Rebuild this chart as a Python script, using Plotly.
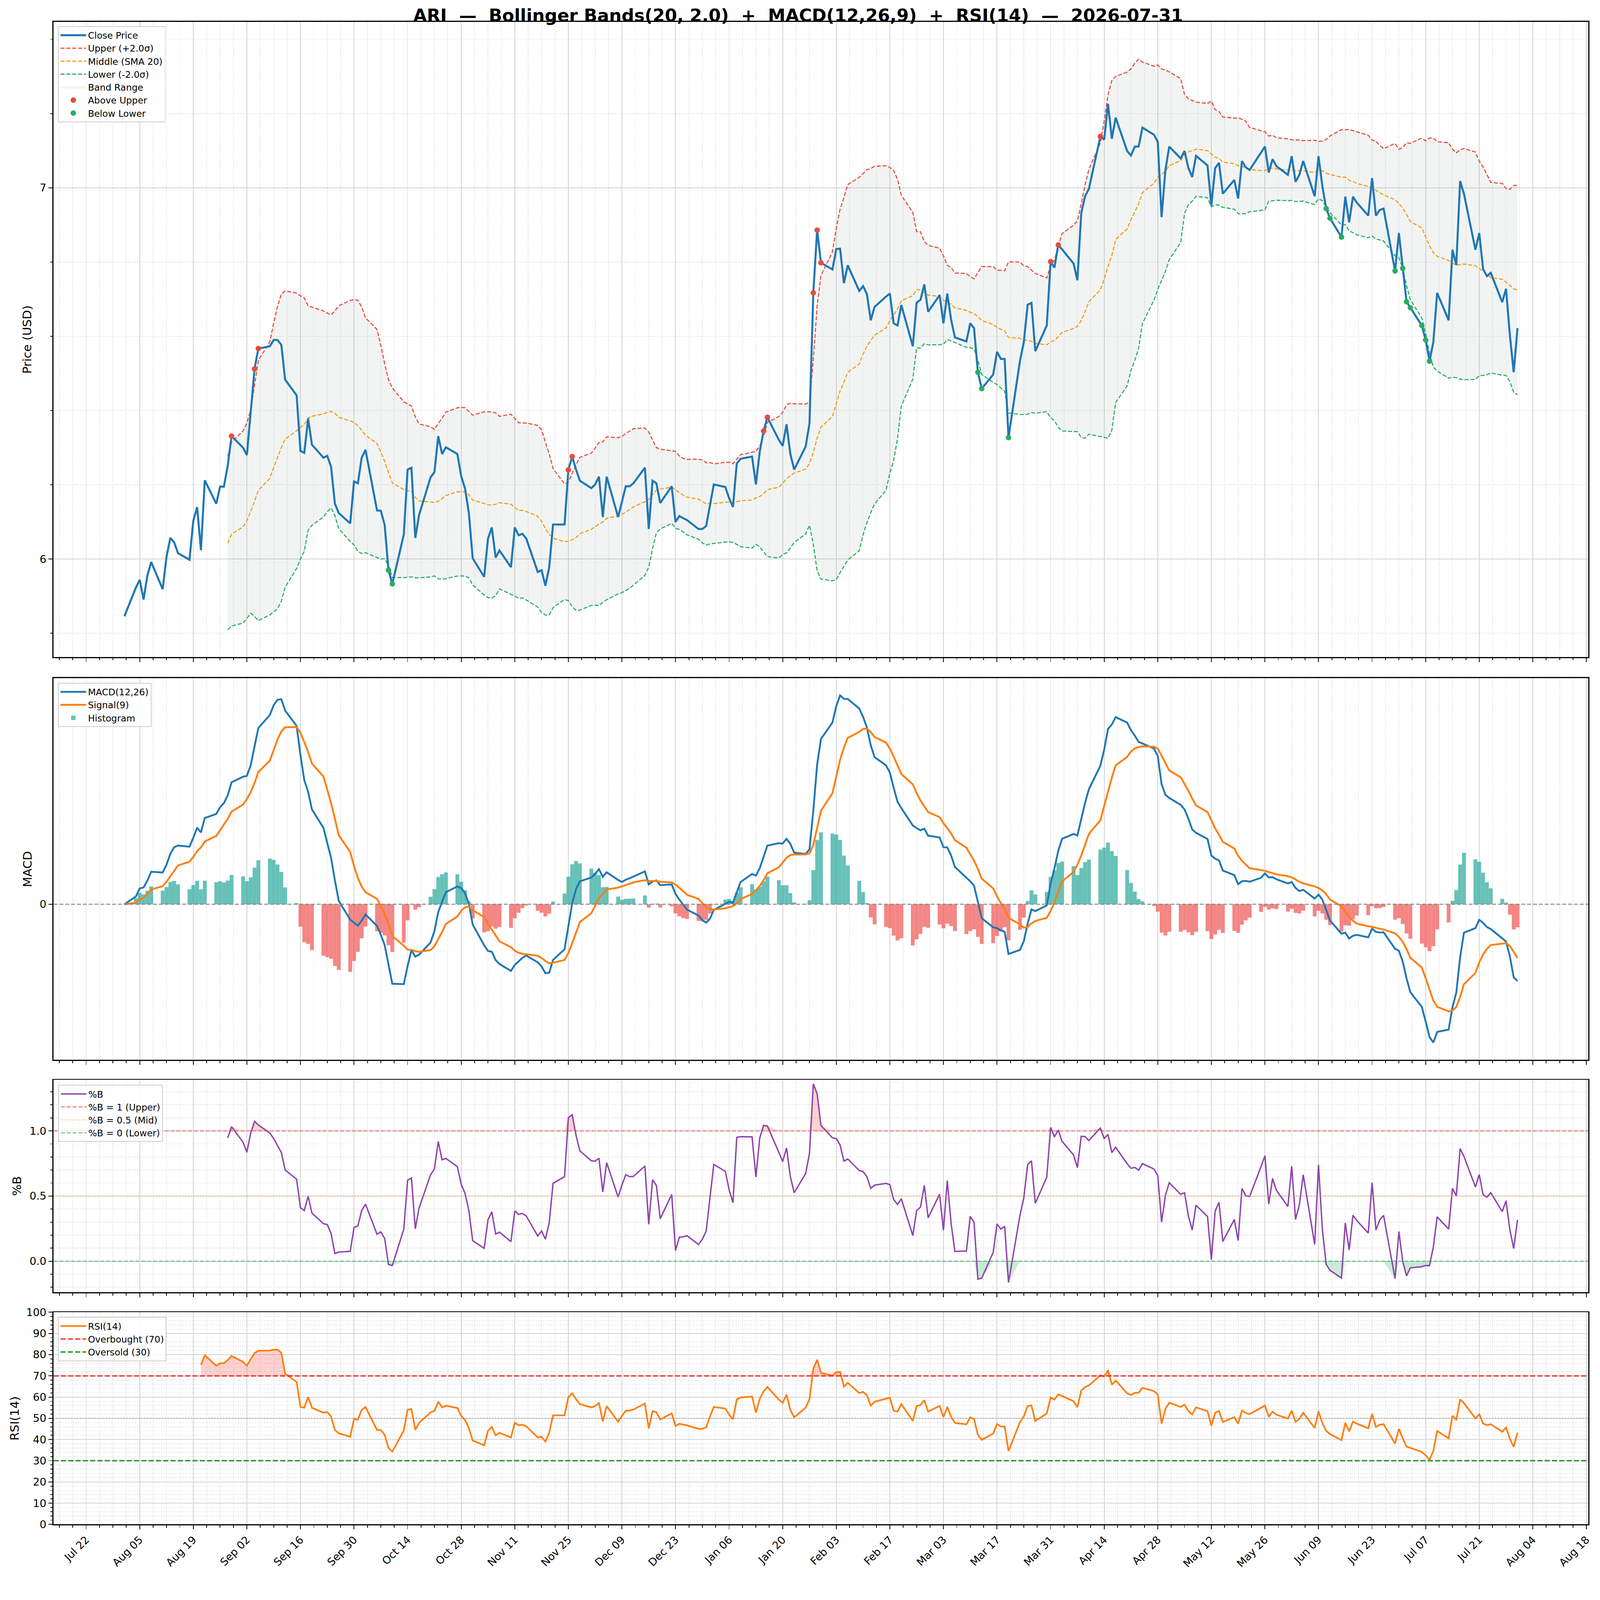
import numpy as np
import pandas as pd
import plotly.graph_objects as go

# ---------------- data ----------------
TICKER = "ARI"
START_DATE = "2025-08-01"
END_DATE = "2026-07-31"

close_2025_08 = [5.846, 5.923, 5.944, 5.891, 5.955, 5.992, 5.919, 6.006, 6.057, 6.045, 6.016,
                 5.998, 6.103, 6.140, 6.024, 6.212, 6.149, 6.195, 6.195, 6.252, 6.331]
close_2025_09 = [6.300, 6.280, 6.393, 6.512, 6.567, 6.573, 6.590, 6.590, 6.577, 6.483, 6.441,
                 6.291, 6.286, 6.379, 6.308, 6.273, 6.278, 6.248, 6.149, 6.124, 6.096, 6.209]
close_2025_10 = [6.204, 6.273, 6.294, 6.131, 6.130, 6.092, 5.970, 5.933, 6.066, 6.241, 6.246,
                 6.057, 6.119, 6.220, 6.234, 6.331, 6.283, 6.301, 6.283, 6.223, 6.190, 6.124, 6.002]
close_2025_11 = [5.952, 6.055, 6.085, 6.004, 6.023, 5.978, 6.085, 6.064, 6.068, 6.055, 5.965,
                 5.970, 5.928, 5.978, 6.093, 6.093, 6.240, 6.276, 6.241, 6.211]
close_2025_12 = [6.191, 6.201, 6.222, 6.113, 6.222, 6.113, 6.156, 6.196, 6.196, 6.204, 6.246,
                 6.081, 6.211, 6.204, 6.151, 6.196, 6.100, 6.116, 6.110, 6.105, 6.081, 6.081, 6.089]
close_2026_01 = [6.146, 6.201, 6.194, 6.164, 6.140, 6.257, 6.270, 6.276, 6.201, 6.289, 6.345,
                 6.382, 6.321, 6.305, 6.363, 6.283, 6.241, 6.303, 6.365, 6.717, 6.886, 6.798]
close_2026_02 = [6.780, 6.835, 6.836, 6.743, 6.791, 6.722, 6.735, 6.714, 6.643, 6.679, 6.707,
                 6.715, 6.635, 6.629, 6.684, 6.573, 6.691, 6.698, 6.740, 6.666]
close_2026_03 = [6.711, 6.635, 6.715, 6.645, 6.597, 6.586, 6.635, 6.622, 6.503, 6.459, 6.497,
                 6.558, 6.539, 6.539, 6.327, 6.534, 6.584, 6.685, 6.690, 6.560, 6.629, 6.801]
close_2026_04 = [6.785, 6.846, 6.834, 6.796, 6.751, 6.931, 6.977, 6.997, 7.138, 7.130, 7.226,
                 7.132, 7.189, 7.099, 7.087, 7.111, 7.111, 7.162, 7.143, 7.124, 6.921, 7.048]
close_2026_05 = [7.111, 7.079, 7.099, 7.053, 7.029, 7.086, 7.060, 6.952, 7.053, 7.067, 6.984,
                 7.021, 6.971, 7.072, 7.055, 7.048, 7.095, 7.111, 7.041, 7.077, 7.058]
close_2026_06 = [7.035, 7.085, 7.016, 7.035, 7.072, 6.977, 7.085, 7.005, 6.944, 6.918, 6.867,
                 6.976, 6.907, 6.976, 6.960, 6.925, 7.026, 6.925, 6.940, 6.944, 6.776, 6.878]
close_2026_07 = [6.783, 6.693, 6.677, 6.629, 6.590, 6.533, 6.584, 6.717, 6.643, 6.833, 6.792,
                 7.018, 6.984, 6.833, 6.878, 6.781, 6.762, 6.771, 6.692, 6.728, 6.603, 6.503, 6.622]

BB_WINDOW, BB_K = 20, 2.0
MACD_FAST, MACD_SLOW, MACD_SIGNAL = 12, 26, 9
RSI_PERIOD = 14
RSI_OVERBOUGHT, RSI_OVERSOLD, RSI_MID = 70, 30, 50
PB_UPPER, PB_MID, PB_LOWER = 1.0, 0.5, 0.0

X_TICK0 = "2025-07-22"
X_RANGE = ["2025-07-13 12:00", "2026-08-18 12:00"]

# ---------------- indicators ----------------
dates = pd.bdate_range(START_DATE, END_DATE)
close = pd.Series(np.concatenate([close_2025_08, close_2025_09, close_2025_10, close_2025_11,
                                  close_2025_12, close_2026_01, close_2026_02, close_2026_03,
                                  close_2026_04, close_2026_05, close_2026_06, close_2026_07]),
                  index=dates)

middle = close.rolling(BB_WINDOW).mean()
std = close.rolling(BB_WINDOW).std()
upper = middle + BB_K * std
lower = middle - BB_K * std
pct_b = (close - lower) / (upper - lower)

ema_fast = close.ewm(span=MACD_FAST, adjust=False).mean()
ema_slow = close.ewm(span=MACD_SLOW, adjust=False).mean()
macd = ema_fast - ema_slow
signal = macd.ewm(span=MACD_SIGNAL, adjust=False).mean()
hist = macd - signal

delta = close.diff()
gain = delta.clip(lower=0)
loss = -delta.clip(upper=0)
avg_gain = gain.ewm(alpha=1 / RSI_PERIOD, adjust=False, min_periods=RSI_PERIOD).mean()
avg_loss = loss.ewm(alpha=1 / RSI_PERIOD, adjust=False, min_periods=RSI_PERIOD).mean()
rsi = 100 - 100 / (1 + avg_gain / avg_loss)

above = close > upper
below = close < lower

# ---------------- layout geometry ----------------
W, H = 4378, 4322
DAY_MS = 86400000


def px_x(p):
    return p / W


def px_y(p):
    return 1 - p / H


X_DOM = [px_x(147), px_x(4356)]
Y_DOMS = {
    1: [px_y(1795), px_y(43)],
    2: [px_y(2906), px_y(1853)],
    3: [px_y(3547), px_y(2961)],
    4: [px_y(4187), px_y(3602)],
}

FONT = "DejaVu Sans"
GRID = "#d2d2d2"
MINOR_GRID = "#e2e2e2"

fig = go.Figure()

# ---- price panel ----
fig.add_trace(go.Scatter(x=dates, y=lower, mode="lines", line=dict(width=0), showlegend=False,
                         hoverinfo="skip", xaxis="x", yaxis="y"))
fig.add_trace(go.Scatter(x=dates, y=upper, mode="lines", line=dict(width=0), fill="tonexty",
                         fillcolor="rgba(149,165,166,0.12)", name="Band Range", legend="legend",
                         legendrank=5, xaxis="x", yaxis="y"))
fig.add_trace(go.Scatter(x=dates, y=upper, mode="lines", name="Upper (+2.0σ)",
                         line=dict(color="#e74c3c", width=3, dash="11px,5px"), legend="legend",
                         legendrank=2, xaxis="x", yaxis="y"))
fig.add_trace(go.Scatter(x=dates, y=middle, mode="lines", name="Middle (SMA 20)",
                         line=dict(color="#f39c12", width=3, dash="11px,5px"), legend="legend",
                         legendrank=3, xaxis="x", yaxis="y"))
fig.add_trace(go.Scatter(x=dates, y=lower, mode="lines", name="Lower (-2.0σ)",
                         line=dict(color="#27ae60", width=3, dash="11px,5px"), legend="legend",
                         legendrank=4, xaxis="x", yaxis="y"))
fig.add_trace(go.Scatter(x=dates, y=close, mode="lines", name="Close Price",
                         line=dict(color="#1f77b4", width=5.5), legend="legend",
                         legendrank=1, xaxis="x", yaxis="y"))
fig.add_trace(go.Scatter(x=dates[above], y=close[above], mode="markers", name="Above Upper",
                         marker=dict(color="#e74c3c", size=15), legend="legend",
                         legendrank=6, xaxis="x", yaxis="y"))
fig.add_trace(go.Scatter(x=dates[below], y=close[below], mode="markers", name="Below Lower",
                         marker=dict(color="#27ae60", size=15), legend="legend",
                         legendrank=7, xaxis="x", yaxis="y"))

# ---- MACD panel ----
hist_pos = hist.where(hist >= 0)
hist_neg = hist.where(hist < 0)
fig.add_trace(go.Bar(x=dates, y=hist_pos, width=DAY_MS, name="Histogram",
                     marker=dict(color="rgba(38,166,154,0.7)", line=dict(width=0)),
                     legend="legend2", legendrank=3, xaxis="x2", yaxis="y2"))
fig.add_trace(go.Bar(x=dates, y=hist_neg, width=DAY_MS, showlegend=False,
                     marker=dict(color="rgba(239,83,80,0.7)", line=dict(width=0)),
                     xaxis="x2", yaxis="y2"))
fig.add_trace(go.Scatter(x=dates, y=macd, mode="lines", name="MACD(12,26)",
                         line=dict(color="#1f77b4", width=5), legend="legend2", legendrank=1,
                         xaxis="x2", yaxis="y2"))
fig.add_trace(go.Scatter(x=dates, y=signal, mode="lines", name="Signal(9)",
                         line=dict(color="#ff7f0e", width=5), legend="legend2", legendrank=2,
                         xaxis="x2", yaxis="y2"))

macd_lo = min(macd.min(), signal.min(), hist.min(), 0)
macd_hi = max(macd.max(), signal.max(), hist.max(), 0)
macd_pad = 0.05 * (macd_hi - macd_lo)
MACD_RANGE = [macd_lo - macd_pad, macd_hi + macd_pad]

# ---- %B panel ----
valid_b = pct_b.notna()
fig.add_trace(go.Scatter(x=dates, y=np.where(valid_b, PB_UPPER, np.nan), mode="lines",
                         line=dict(width=0), showlegend=False, hoverinfo="skip",
                         xaxis="x3", yaxis="y3"))
fig.add_trace(go.Scatter(x=dates, y=np.maximum(pct_b, PB_UPPER), mode="lines",
                         line=dict(width=0), fill="tonexty", fillcolor="rgba(231,76,60,0.25)",
                         showlegend=False, hoverinfo="skip", xaxis="x3", yaxis="y3"))
fig.add_trace(go.Scatter(x=dates, y=np.where(valid_b, PB_LOWER, np.nan), mode="lines",
                         line=dict(width=0), showlegend=False, hoverinfo="skip",
                         xaxis="x3", yaxis="y3"))
fig.add_trace(go.Scatter(x=dates, y=np.minimum(pct_b, PB_LOWER), mode="lines",
                         line=dict(width=0), fill="tonexty", fillcolor="rgba(39,174,96,0.25)",
                         showlegend=False, hoverinfo="skip", xaxis="x3", yaxis="y3"))
fig.add_trace(go.Scatter(x=dates, y=pct_b, mode="lines", name="%B",
                         line=dict(color="#8e44ad", width=3.8), legend="legend3", legendrank=1,
                         xaxis="x3", yaxis="y3"))

# ---- RSI panel ----
valid_r = rsi.notna()
fig.add_trace(go.Scatter(x=dates, y=np.where(valid_r, RSI_OVERBOUGHT, np.nan), mode="lines",
                         line=dict(width=0), showlegend=False, hoverinfo="skip",
                         xaxis="x4", yaxis="y4"))
fig.add_trace(go.Scatter(x=dates, y=np.maximum(rsi, RSI_OVERBOUGHT), mode="lines",
                         line=dict(width=0), fill="tonexty", fillcolor="rgba(255,0,0,0.18)",
                         showlegend=False, hoverinfo="skip", xaxis="x4", yaxis="y4"))
fig.add_trace(go.Scatter(x=dates, y=np.where(valid_r, RSI_OVERSOLD, np.nan), mode="lines",
                         line=dict(width=0), showlegend=False, hoverinfo="skip",
                         xaxis="x4", yaxis="y4"))
fig.add_trace(go.Scatter(x=dates, y=np.minimum(rsi, RSI_OVERSOLD), mode="lines",
                         line=dict(width=0), fill="tonexty", fillcolor="rgba(0,160,0,0.18)",
                         showlegend=False, hoverinfo="skip", xaxis="x4", yaxis="y4"))
fig.add_trace(go.Scatter(x=dates, y=rsi, mode="lines", name="RSI(14)",
                         line=dict(color="#ff7f0e", width=4.5), legend="legend4", legendrank=1,
                         xaxis="x4", yaxis="y4"))


# ---- horizontal reference lines ----
def hline(xa, ya, yv, color, width, dash, name=None, legend=None, rank=None):
    d = dict(type="line", xref=f"{xa} domain", yref=ya, x0=0, x1=1, y0=yv, y1=yv,
             line=dict(color=color, width=width, dash=dash))
    if name:
        d.update(name=name, showlegend=True, legend=legend, legendrank=rank)
    return d


shapes = [
    hline("x2", "y2", 0, "rgba(128,128,128,0.85)", 3, "11px,5px"),
    hline("x3", "y3", PB_UPPER, "rgba(231,76,60,0.65)", 3, "11px,5px", "%B = 1 (Upper)", "legend3", 2),
    hline("x3", "y3", PB_MID, "rgba(243,156,18,0.6)", 3, "3px,5px", "%B = 0.5 (Mid)", "legend3", 3),
    hline("x3", "y3", PB_LOWER, "rgba(39,174,96,0.65)", 3, "11px,5px", "%B = 0 (Lower)", "legend3", 4),
    hline("x4", "y4", RSI_OVERBOUGHT, "rgba(255,0,0,0.75)", 4, "14px,6px", "Overbought (70)", "legend4", 2),
    hline("x4", "y4", RSI_OVERSOLD, "rgba(0,128,0,0.8)", 4, "14px,6px", "Oversold (30)", "legend4", 3),
    hline("x4", "y4", RSI_MID, "rgba(128,128,128,0.6)", 3, "3px,5px"),
]


# ---- axes ----
def xaxis(i, labels):
    ax = dict(type="date", domain=X_DOM, range=X_RANGE, tick0=X_TICK0, dtick=14 * DAY_MS,
              tickformat="%b %d", showticklabels=labels, tickangle=-45,
              tickfont=dict(size=29, family=FONT, color="black"),
              showgrid=True, gridcolor=GRID, gridwidth=2.2, zeroline=False,
              showline=True, linecolor="black", linewidth=2.6, mirror=True,
              ticks="outside", ticklen=11, tickwidth=2.2, tickcolor="black",
              minor=dict(tick0=X_TICK0, dtick=3.5 * DAY_MS, showgrid=True, gridcolor=MINOR_GRID,
                         gridwidth=1.5, griddash="dot", ticks="outside", ticklen=6,
                         tickwidth=1.6, tickcolor="black"),
              anchor=f"y{'' if i == 1 else i}")
    if i > 1:
        ax["matches"] = "x"
    return ax


def yaxis(i, rng, **kw):
    ax = dict(domain=Y_DOMS[i], range=rng, showline=True, linecolor="black", linewidth=2.6,
              mirror=True, ticks="outside", ticklen=11, tickwidth=2.2, tickcolor="black",
              zeroline=False, tickfont=dict(size=29, family=FONT, color="black"),
              showgrid=True, gridcolor=GRID, gridwidth=2.2,
              anchor=f"x{'' if i == 1 else i}")
    ax.update(kw)
    return ax


def minor(dt):
    return dict(dtick=dt, showgrid=True, gridcolor=MINOR_GRID, gridwidth=1.5, griddash="dot",
                ticks="outside", ticklen=6, tickwidth=1.6, tickcolor="black")


legend_style = dict(bgcolor="rgba(255,255,255,0.85)", bordercolor="#cccccc", borderwidth=2,
                    font=dict(size=25, family=FONT, color="black"), xanchor="left",
                    yanchor="top", itemwidth=70, traceorder="normal")

ylabels = [("Price (USD)", 75, (43 + 1795) / 2), ("MACD", 76, (1853 + 2906) / 2),
           ("%B", 46, (2961 + 3547) / 2), ("RSI(14)", 40, (3602 + 4187) / 2)]
annotations = [dict(text=t, xref="paper", yref="paper", x=px_x(xp), y=px_y(yp),
                    xanchor="center", yanchor="middle", textangle=-90, showarrow=False,
                    font=dict(size=33, family=FONT, color="black")) for t, xp, yp in ylabels]

fig.update_layout(
    width=W, height=H,
    margin=dict(l=0, r=0, t=0, b=0),
    paper_bgcolor="white", plot_bgcolor="white",
    font=dict(family=FONT, size=29, color="black"),
    title=dict(text=f"{TICKER}  —  Bollinger Bands(20, 2.0)  +  MACD(12,26,9)  +  RSI(14)  —  {END_DATE}",
               x=0.5, xanchor="center", xref="paper", y=px_y(42), yanchor="middle",
               font=dict(size=48, family=FONT, color="black", weight="bold")),
    xaxis=xaxis(1, False), xaxis2=xaxis(2, False), xaxis3=xaxis(3, False), xaxis4=xaxis(4, True),
    yaxis=yaxis(1, [5.736, 7.447], tick0=0, dtick=1, minor=minor(0.2)),
    yaxis2=yaxis(2, MACD_RANGE, tickvals=[0], ticktext=["0"], showgrid=False),
    yaxis3=yaxis(3, [-0.239, 1.392], tick0=0, dtick=0.5, tickformat=".1f", minor=minor(0.1)),
    yaxis4=yaxis(4, [0, 100], tick0=0, dtick=10, minor=minor(2)),
    legend=dict(x=px_x(159), y=px_y(55), **legend_style),
    legend2=dict(x=px_x(159), y=px_y(1866), **legend_style),
    legend3=dict(x=px_x(160), y=px_y(2975), **legend_style),
    legend4=dict(x=px_x(159), y=px_y(3615), **legend_style),
    shapes=shapes,
    annotations=annotations,
    showlegend=True,
    barmode="overlay",
)

# keep the whole 4378x4322 figure inside the browser viewport, whatever its size
FIT_JS = """
(function () {
  var gd = document.getElementById('{plot_id}');
  document.documentElement.style.margin = '0';
  document.body.style.margin = '0';
  document.body.style.overflow = 'hidden';
  function fit() {
    var s = Math.min(window.innerWidth / %d, window.innerHeight / %d, 1);
    gd.style.transformOrigin = '0 0';
    gd.style.transform = 'scale(' + s + ')';
  }
  fit();
  window.addEventListener('resize', fit);
})();
""" % (W, H)

fig.write_html("out.html", post_script=FIT_JS, config={"displayModeBar": False})
